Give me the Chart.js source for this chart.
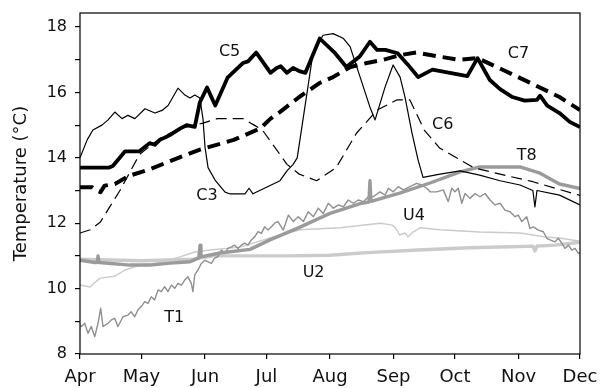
<!DOCTYPE html>
<html>
<head>
<meta charset="utf-8">
<script src="https://cdn.jsdelivr.net/npm/chart.js@4.4.1/dist/chart.umd.min.js"></script>
<style>
    html, body { margin: 0; padding: 0; background: #fff; }
    #wrap { width: 601px; height: 388px; }
</style>
</head>
<body>
<div id="wrap"><canvas id="tempChart" width="601" height="388"></canvas></div>
<script>
// x values are days since 1 April, y values are temperatures (°C)
const monthDays = [0, 30, 61, 91, 122, 153, 183, 214, 244];
const monthLabels = ['Apr', 'May', 'Jun', 'Jul', 'Aug', 'Sep', 'Oct', 'Nov', 'Dec'];

const c5 = [[0,13.7],[14,13.7],[16,13.75],[20,14.05],[22,14.2],[29,14.2],[31,14.3],[34,14.45],[36.5,14.4],[39,14.55],
    [44,14.7],[49,14.9],[52,15.0],[56,14.95],[58.5,15.7],[62,16.15],[66,15.6],[72,16.45],[79.5,16.9],[82,16.95],
    [86,17.22],[93,16.6],[96,16.75],[98,16.8],[101,16.6],[104,16.75],[107,16.65],[110,16.6],[117,17.65],[124.5,17.2],
    [130,16.78],[136.5,17.1],[141.5,17.55],[145,17.3],[149,17.3],[155,17.2],[160,16.85],[165,16.47],[172,16.7],
    [180.5,16.6],[189,16.5],[194,17.05],[200,16.38],[205,16.1],[211,15.86],[217,15.75],[223,15.77],[224.5,15.9],
    [228,15.6],[234,15.37],[239,15.1],[244,14.94]];

const c7 = [[0,13.1],[6,13.1],[8,13.0],[10,12.95],[12,13.15],[17,13.2],[24,13.45],[34,13.65],[44,13.9],[50,14.05],
    [58.5,14.25],[75,14.55],[88,14.9],[93,15.2],[97.5,15.4],[107,15.86],[117,16.29],[123.5,16.47],[132,16.78],
    [140,16.9],[148,17.0],[156,17.14],[164,17.22],[175,17.1],[185,17.0],[194,17.05],[206,16.7],[219.5,16.3],
    [234,15.86],[244,15.46]];

const c3 = [[0,14.0],[3.5,14.55],[6.3,14.85],[10.7,15.0],[13.7,15.16],[17,15.4],[20.5,15.2],[23.4,15.3],[26.8,15.2],
    [31.7,15.5],[36.6,15.37],[40,15.45],[43,15.6],[47.8,16.13],[51.2,15.92],[53.7,15.83],[56,15.92],[58.5,15.83],
    [60,15.2],[61,14.33],[62.5,13.7],[65.9,13.32],[70.8,12.95],[73,12.9],[80.5,12.9],[82.5,13.07],[84.4,12.9],
    [90,13.07],[97.6,13.3],[101,13.6],[104,13.8],[106,14.0],[108.8,15.16],[113.7,17.2],[118.6,17.75],[123.5,17.8],
    [128.4,17.66],[131.8,17.4],[136.7,16.47],[141.5,15.55],[144,15.16],[148.9,16.17],[152.8,16.84],[156.2,16.47],
    [158.6,15.86],[162,14.76],[165,13.93],[167.4,13.4],[175.7,13.5],[185.5,13.6],[195,13.47],[205,13.3],
    [214.7,13.17],[221,13.0],[222,12.5],[223,13.0],[234,12.86],[244,12.56]];

const c6 = [[0,11.7],[5,11.8],[10,12.04],[14.5,12.5],[19.5,13.0],[29,14.1],[39,14.6],[49,14.9],[60,15.06],[67,15.2],
    [79.5,15.2],[85,15.0],[89,14.85],[95,14.33],[101,13.8],[107,13.5],[115.5,13.3],[125,13.7],[135,14.76],[145,15.46],
    [154.5,15.77],[161,15.77],[168,14.85],[175.5,14.3],[192,13.7],[205,13.5],[221,13.27],[244,12.85]];

const t8 = [[0,10.87],[7.3,10.8],[8.3,10.8],[8.8,11.0],[9.3,10.8],[24.4,10.72],[34,10.72],[44,10.78],[53.7,10.82],
    [58,10.94],[58.6,11.33],[59,10.97],[68.3,11.09],[83,11.2],[92.7,11.49],[107.4,11.88],[122,12.3],[136.7,12.6],
    [141,12.65],[141.5,13.3],[142,12.67],[156,12.92],[170.8,13.23],[185.5,13.57],[195,13.72],[214.7,13.72],
    [224.5,13.53],[234,13.2],[244,13.06]];

const t1 = [[0,8.89],[0.65,8.84],[2.3,8.94],[3.9,8.63],[5.5,8.84],[7.2,8.53],[8.8,8.94],[10.1,9.4],[11.2,8.84],
    [13.7,8.94],[15.3,9.04],[16.9,9.09],[18.5,8.84],[21,9.14],[23.4,9.19],[25,9.29],[26.7,9.14],[28.3,9.35],
    [29.9,9.45],[31.6,9.6],[33.2,9.55],[34.8,9.75],[36.4,9.65],[38.1,9.96],[39.7,9.91],[41.3,10.06],[42.9,9.91],
    [44.6,10.11],[46.2,10.01],[47.8,10.16],[49.5,10.11],[51.1,10.26],[52.7,10.36],[54.3,10.16],[55.1,9.91],
    [56,10.42],[57.6,10.57],[59.2,10.77],[60.9,10.87],[62.5,10.82],[64.1,10.77],[65.7,10.93],[67.3,10.98],
    [69,11.18],[70.6,11.08],[72.2,11.23],[73.9,11.28],[75.5,11.33],[77.1,11.23],[78.7,11.33],[80.4,11.39],
    [82,11.33],[83.6,11.49],[85.3,11.59],[86.9,11.74],[88.5,11.69],[90.1,11.89],[91.8,11.79],[93.4,11.89],
    [95,12.0],[96.6,12.05],[99.2,11.79],[101.7,12.25],[104.1,12.05],[106.5,12.2],[109,12.05],[111.4,12.35],
    [113.9,12.2],[116.3,12.46],[118.7,12.3],[121.2,12.61],[123.6,12.46],[126.1,12.56],[128.5,12.5],[130.9,12.71],
    [133.4,12.61],[135.8,12.71],[138.3,12.66],[140.7,12.81],[143.1,12.81],[146.4,12.96],[148.9,12.86],
    [150.5,13.07],[152.9,12.96],[155.3,13.12],[157.8,13.02],[161,13.12],[164.3,13.22],[166.8,13.17],[169.2,13.07],
    [170.8,12.96],[174.1,12.96],[177.3,13.02],[179.7,12.66],[181.4,13.07],[183,12.96],[184.6,13.07],[186.3,12.61],
    [187.9,12.91],[190.3,12.76],[192.8,12.91],[195.2,12.81],[197.7,12.91],[200.1,12.71],[202.5,12.56],[205,12.61],
    [207.4,12.4],[209.9,12.35],[212.3,12.2],[213.9,12.25],[215.6,12.05],[218,12.2],[219.6,11.84],[221.2,11.89],
    [223.7,11.79],[226.1,11.74],[227.8,11.54],[229.4,11.49],[231.8,11.43],[233.4,11.54],[235.1,11.39],
    [236.7,11.23],[238.4,11.33],[240,11.18],[241.6,11.23],[243.2,11.08],[244,11.1]];

const u4 = [[0,10.11],[4.9,10.05],[9.8,10.32],[17,10.38],[22,10.57],[29.3,10.72],[39,10.8],[48.8,10.97],[56,11.12],
    [63.4,11.18],[78,11.27],[92.7,11.55],[107.4,11.8],[127,11.86],[146.4,12.0],[152,11.95],[153.7,11.88],[156,11.64],
    [158.6,11.7],[160,11.58],[162.5,11.73],[166,11.86],[175.7,11.8],[195,11.73],[214.7,11.7],[227,11.58],
    [234,11.55],[244,11.45]];

const u2 = [[0,10.9],[30,10.85],[55,10.9],[65,11.0],[100,11.0],[122,11.02],[140,11.1],[165,11.18],[190,11.25],
    [210,11.28],[221,11.3],[222,11.15],[223,11.3],[232,11.33],[244,11.42]];

// series name tags, anchored in data coordinates
const tagNames = ['C5', 'C7', 'C6', 'T8', 'C3', 'U4', 'U2', 'T1'];
const tagDays = [73, 214, 177, 218, 62, 163, 114, 46];
const tagTemps = [17.24, 17.17, 15.0, 14.06, 12.85, 12.22, 10.48, 9.1];

const fontName = '"DejaVu Sans", "Liberation Sans", Arial, sans-serif';

function toPoints(list) {
    return list.map(p => ({ x: p[0], y: p[1] }));
}

function makeLine(label, list, color, width, dash) {
    return {
        label: label,
        data: toPoints(list),
        borderColor: color,
        borderWidth: width,
        borderDash: dash || [],
        borderJoinStyle: 'round',
        pointRadius: 0,
        tension: 0,
        fill: false
    };
}

// first dataset ends up on top
const datasets = [
    makeLine('C5', c5, '#000', 3.8),
    makeLine('C7', c7, '#000', 4, [13, 7]),
    makeLine('C3', c3, '#000', 1.2),
    makeLine('C6', c6, '#000', 1.2, [11, 6]),
    makeLine('T8', t8, '#9b9b9b', 3.4),
    makeLine('T1', t1, '#8f8f8f', 1.4),
    makeLine('U4', u4, '#cbcbcb', 1.4),
    makeLine('U2', u2, '#cbcbcb', 3.4)
];

// frame around the plot plus series tags
const framePlugin = {
    id: 'frame',
    afterDatasetsDraw(chart) {
        const ctx = chart.ctx;
        const a = chart.chartArea;
        ctx.save();
        ctx.strokeStyle = '#000';
        ctx.lineWidth = 1.2;
        ctx.strokeRect(a.left, a.top, a.right - a.left, a.bottom - a.top);

        ctx.fillStyle = '#111';
        ctx.font = '16px ' + fontName;
        ctx.textAlign = 'center';
        ctx.textBaseline = 'middle';
        for (var i = 0; i < tagNames.length; i++) {
            var px = chart.scales.x.getPixelForValue(tagDays[i]);
            var py = chart.scales.y.getPixelForValue(tagTemps[i]);
            ctx.fillText(tagNames[i], px, py);
        }
        ctx.restore();
    }
};

const ctx = document.getElementById('tempChart').getContext('2d');
new Chart(ctx, {
    type: 'line',
    data: { datasets: datasets },
    plugins: [framePlugin],
    options: {
        responsive: false,
        animation: false,
        layout: { padding: { left: 0, right: 21, top: 13, bottom: 0 } },
        plugins: {
            legend: { display: false },
            tooltip: { enabled: false }
        },
        scales: {
            x: {
                type: 'linear',
                min: 0,
                max: 244,
                border: { display: false },
                grid: { display: true, drawOnChartArea: false, drawTicks: true, tickLength: 5, color: '#000', lineWidth: 1.2 },
                afterBuildTicks: scale => {
                    scale.ticks = monthDays.map(d => ({ value: d }));
                },
                afterFit: scale => {
                    scale.height = 34;
                    scale.paddingLeft = 0;
                    scale.paddingRight = 0;
                },
                ticks: {
                    autoSkip: false,
                    maxRotation: 0,
                    padding: 8,
                    color: '#111',
                    font: { family: fontName, size: 18 },
                    callback: (value, index) => monthLabels[index]
                }
            },
            y: {
                min: 8,
                max: 18.43,
                border: { display: false },
                grid: { display: true, drawOnChartArea: false, drawTicks: true, tickLength: 5, color: '#000', lineWidth: 1.2 },
                afterFit: scale => {
                    scale.width = 80;
                    scale.paddingTop = 0;
                    scale.paddingBottom = 0;
                },
                title: {
                    display: true,
                    text: 'Temperature (°C)',
                    color: '#111',
                    font: { family: fontName, size: 18 },
                    padding: { top: 11, bottom: 0 }
                },
                ticks: {
                    stepSize: 1,
                    includeBounds: false,
                    padding: 8,
                    color: '#111',
                    font: { family: fontName, size: 16 },
                    callback: value => (value % 2 === 0 ? String(value) : '')
                }
            }
        }
    }
});
</script>
</body>
</html>
